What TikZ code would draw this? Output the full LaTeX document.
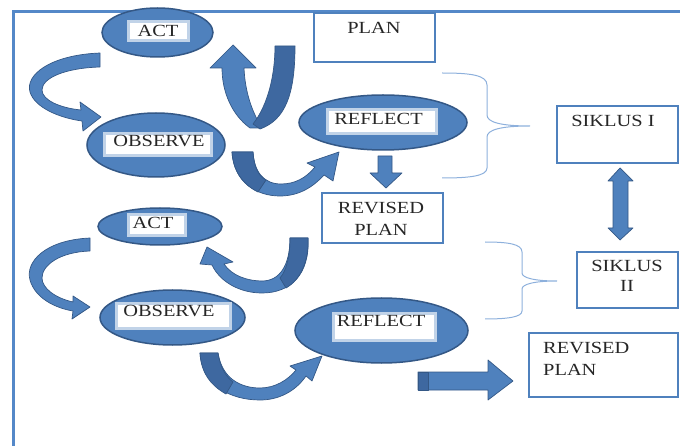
\documentclass[tikz,border=0pt]{standalone}
\usepackage{fontspec}
\setmainfont{Liberation Serif}[FakeStretch=1.2]
\usetikzlibrary{shapes.geometric}
\definecolor{mblue}{RGB}{79,129,189}
\definecolor{dblue}{RGB}{52,88,134}
\definecolor{sblue}{RGB}{62,104,160}
\definecolor{lblue}{RGB}{141,176,220}
\definecolor{fblue}{RGB}{84,136,200}
\begin{document}
\begin{tikzpicture}[x=1pt,y=-1pt,
  ell/.style={ellipse, fill=mblue, draw=dblue, line width=1.5pt, inner sep=0pt},
  glow/.style={fill=white, draw=white!65!mblue, line width=2.5pt, inner sep=0pt},
  lbl/.style={font=\fontsize{17}{22}\selectfont, inner sep=0pt, text=black!85},
  boxs/.style={draw=mblue, line width=2.5pt, fill=white, inner sep=0pt},
  arr/.style={fill=mblue, draw=dblue, line width=0.7pt, line join=round},
  darr/.style={fill=sblue, draw=dblue, line width=0.7pt, line join=round},
  brk/.style={draw=lblue, line width=1pt},
  frame/.style={draw=fblue, line width=3pt}]
\useasboundingbox (0,0) rectangle (680,446);
% frame
\draw[frame] (13,446) -- (13,12) -- (680,12);

% boxes
\node[boxs, minimum width=121pt, minimum height=49pt] (planbox) at (374.5,37.5) {};
\node[lbl] (plan) at (374,28) {PLAN};
\node[boxs, minimum width=121pt, minimum height=50pt] (rev1box) at (382.5,218) {};
\node[lbl, align=center] (rev1) at (381,219) {REVISED\\PLAN};
\node[boxs, minimum width=121pt, minimum height=57pt] (sik1box) at (617.5,134.5) {};
\node[lbl] (sik1) at (613,121) {SIKLUS I};
\node[boxs, minimum width=101pt, minimum height=56pt] (sik2box) at (627.5,280) {};
\node[lbl, align=center, font=\fontsize{17}{20}\selectfont] (sik2) at (627,276) {SIKLUS\\II};
\node[boxs, minimum width=149pt, minimum height=64pt] (rev2box) at (603.5,365) {};
\node[lbl, align=left, anchor=north west] (rev2) at (543,342) {REVISED\\PLAN};

% ellipses
\node[ell, minimum width=111pt, minimum height=49pt] (act1) at (157.5,32.5) {};
\node[glow, minimum width=60pt, minimum height=19pt] (act1g) at (158.5,31) {};
\node[lbl] (act1t) at (158,30.5) {ACT};
\node[ell, minimum width=138pt, minimum height=64pt] (obs1) at (156,145) {};
\node[glow, minimum width=107pt, minimum height=22pt] (obs1g) at (158,144.5) {};
\node[lbl] (obs1t) at (159,141) {OBSERVE};
\node[ell, minimum width=168pt, minimum height=55pt] (ref1) at (383,122.5) {};
\node[glow, minimum width=109pt, minimum height=24pt] (ref1g) at (382,121.5) {};
\node[lbl] (ref1t) at (378.5,118.5) {REFLECT};
\node[ell, minimum width=124pt, minimum height=37pt] (act2) at (160,226.5) {};
\node[glow, minimum width=57pt, minimum height=21pt] (act2g) at (157,225) {};
\node[lbl] (act2t) at (153,222.5) {ACT};
\node[ell, minimum width=145pt, minimum height=55pt] (obs2) at (172.5,317.5) {};
\node[glow, minimum width=114pt, minimum height=25pt] (obs2g) at (173.5,316) {};
\node[lbl] (obs2t) at (169,311.5) {OBSERVE};
\node[ell, minimum width=173pt, minimum height=65pt] (ref2) at (381.5,330.5) {};
\node[glow, minimum width=102pt, minimum height=27pt] (ref2g) at (384.5,327) {};
\node[lbl] (ref2t) at (381,321) {REFLECT};

% curved arrows
% ACT1 -> OBSERVE1
\path[arr] (100,53) .. controls (50,55) and (25,75) .. (30,92) .. controls (35,108) and (60,118) .. (82,121) -- (83,131) -- (101,117) -- (80,102) -- (81,110) .. controls (60,108) and (42,100) .. (42,90) .. controls (42,78) and (65,68) .. (100,67) -- cycle;
% U arrow PLAN -> ACT1
\path[arr] (233,45) -- (256,68) -- (244,68) .. controls (245,92) and (252,112) .. (262,128) -- (250,128) .. controls (232,115) and (222,92) .. (222,68) -- (210,68) -- cycle;
\path[darr] (275,46) -- (295,46) .. controls (295,95) and (285,120) .. (260,129) -- (253,124) .. controls (268,105) and (275,75) .. (275,46) -- cycle;
% OBSERVE1 -> REFLECT1
\path[arr] (232,152) .. controls (234,183) and (257,196) .. (280,196) .. controls (300,196) and (314,186) .. (324,175) -- (333,181) -- (339,152) -- (307,163) -- (315,167) .. controls (306,178) and (295,184) .. (281,184) .. controls (264,184) and (254,172) .. (253,152) -- cycle;
\path[darr] (232,152) -- (253,152) .. controls (254,166) and (258,176) .. (266,180) -- (258,192) .. controls (242,184) and (233,170) .. (232,152) -- cycle;
% REVISED PLAN1 -> ACT2
\path[arr] (290,238) -- (308,238) .. controls (310,275) and (290,293) .. (262,293) .. controls (240,293) and (220,282) .. (212,265) -- (200,264) -- (207,247) -- (233,262) -- (224,264) .. controls (232,276) and (248,281) .. (262,281) .. controls (280,281) and (290,265) .. (290,238) -- cycle;
\path[darr] (290,238) -- (308,238) .. controls (309,262) and (300,280) .. (286,288) -- (280,278) .. controls (287,270) and (290,255) .. (290,238) -- cycle;
% ACT2 -> OBSERVE2
\path[arr] (90,238) .. controls (45,240) and (25,262) .. (30,280) .. controls (35,298) and (55,308) .. (73,311) -- (72,319) -- (90,307) -- (73,296) -- (73,302) .. controls (55,298) and (42,288) .. (42,278) .. controls (42,265) and (60,252) .. (90,251) -- cycle;
% OBSERVE2 -> REFLECT2
\path[arr] (200,353) -- (218,353) .. controls (222,378) and (240,388) .. (260,388) .. controls (275,388) and (288,380) .. (296,370) -- (290,366) -- (322,356) -- (312,381) -- (306,376) .. controls (295,392) and (278,400) .. (260,400) .. controls (230,400) and (202,385) .. (200,353) -- cycle;
\path[darr] (200,353) -- (218,353) .. controls (220,366) and (225,376) .. (233,382) -- (226,394) .. controls (210,385) and (201,372) .. (200,353) -- cycle;

% straight arrows
\path[arr] (378,156) -- (392,156) -- (392,173) -- (402,173) -- (386,188) -- (370,173) -- (378,173) -- cycle;
\path[arr] (620,168) -- (633,181) -- (628,181) -- (628,228) -- (633,228) -- (620,240) -- (608,228) -- (613,228) -- (613,181) -- (608,181) -- cycle;
\path[arr] (418,372) -- (488,372) -- (488,360) -- (513,381) -- (488,400) -- (488,390) -- (418,390) -- cycle;
\path[darr] (418,372) rectangle (428,390);

% brackets
\draw[brk] (442,73) .. controls (470,73) and (487,75) .. (487,85) -- (487,115) .. controls (487,122) and (500,126) .. (530,126) .. controls (500,126) and (487,130) .. (487,137) -- (487,168) .. controls (487,176) and (470,178) .. (442,178);
\draw[brk] (485,242) .. controls (508,242) and (522,244) .. (522,252) -- (522,273) .. controls (522,278) and (535,281) .. (557,281) .. controls (535,281) and (522,284) .. (522,289) -- (522,311) .. controls (522,317) and (508,319) .. (485,319);
\end{tikzpicture}
\end{document}
